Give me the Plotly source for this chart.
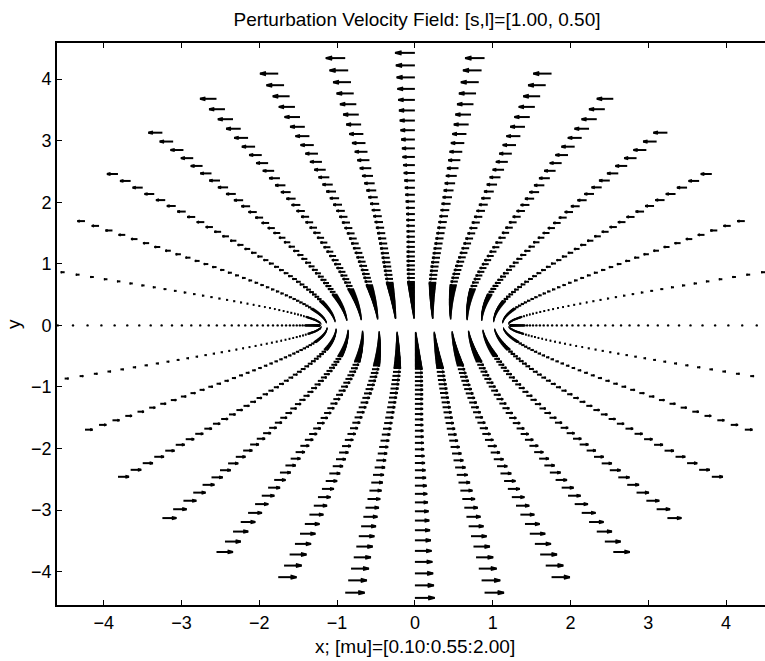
import numpy as np
import plotly.graph_objects as go

# ---- data ----
focal = 1.22  # half focal distance of the elliptic grid (x of the "nose")
# elliptic radial coordinate: dense from 0.10 to 0.55, coarse from 0.55 to 2.00
mu_fine = [0.100, 0.115, 0.130, 0.145, 0.160, 0.175, 0.190, 0.205, 0.220, 0.235,
           0.250, 0.265, 0.280, 0.295, 0.310, 0.325, 0.340, 0.355, 0.370, 0.385,
           0.400, 0.415, 0.430, 0.445, 0.460, 0.475, 0.490, 0.505, 0.520, 0.535,
           0.550]
mu_coarse = [0.5953, 0.6406, 0.6859, 0.7313, 0.7766, 0.8219, 0.8672, 0.9125,
             0.9578, 1.0031, 1.0484, 1.0938, 1.1391, 1.1844, 1.2297, 1.2750,
             1.3203, 1.3656, 1.4109, 1.4563, 1.5016, 1.5469, 1.5922, 1.6375,
             1.6828, 1.7281, 1.7734, 1.8188, 1.8641, 1.9094, 1.9547, 2.0000]
# horizontal arrow length (x units) on the vertical ray, for each mu
speed_fine = [0.017, 0.020, 0.022, 0.025, 0.027, 0.030, 0.032, 0.035, 0.038, 0.040,
              0.043, 0.045, 0.048, 0.051, 0.053, 0.056, 0.058, 0.061, 0.064, 0.066,
              0.069, 0.072, 0.075, 0.077, 0.080, 0.083, 0.085, 0.088, 0.091, 0.094,
              0.097]
speed_coarse = [0.099, 0.101, 0.102, 0.103, 0.104, 0.104, 0.104, 0.104,
                0.104, 0.104, 0.105, 0.106, 0.108, 0.110, 0.113, 0.117,
                0.122, 0.128, 0.135, 0.142, 0.150, 0.158, 0.166, 0.175,
                0.184, 0.194, 0.204, 0.214, 0.224, 0.234, 0.244, 0.254]
# elliptic angular coordinate (degrees)
nu_deg = [0.0, 11.25, 22.5, 33.75, 45.0, 56.25, 67.5, 78.75, 90.0, 101.25,
          112.5, 123.75, 135.0, 146.25, 157.5, 168.75, 180.0, 191.25, 202.5,
          213.75, 225.0, 236.25, 247.5, 258.75, 270.0, 281.25, 292.5, 303.75,
          315.0, 326.25, 337.5, 348.75]
x_ticks = [-4, -3, -2, -1, 0, 1, 2, 3, 4]
y_ticks = [-4, -3, -2, -1, 0, 1, 2, 3, 4]

# ---- grid and vectors ----
mu = np.array(mu_fine + mu_coarse)
speed = np.array(speed_fine + speed_coarse)
MU, NU = np.meshgrid(mu, np.radians(nu_deg))
X = focal * np.cosh(MU) * np.cos(NU)
Y = focal * np.sinh(MU) * np.sin(NU)
U = -np.sin(NU) * speed[None, :]
V = np.zeros_like(U)

x, y, u, v = X.ravel(), Y.ravel(), U.ravel(), V.ravel()
alpha, beta, eps = 0.33, 0.33, 1e-12

xs, ys = [], []
dots_x, dots_y = [], []
for xi, yi, ui, vi in zip(x, y, u, v):
    if abs(ui) < 1e-9 and abs(vi) < 1e-9:
        dots_x.append(xi); dots_y.append(yi)
        continue
    tx, ty = xi + ui, yi + vi
    xs += [xi, tx, None]
    ys += [yi, ty, None]
    h1x = tx - alpha * (ui + beta * (vi + eps))
    h1y = ty - alpha * (vi - beta * (ui + eps))
    h2x = tx - alpha * (ui - beta * (vi + eps))
    h2y = ty - alpha * (vi + beta * (ui + eps))
    xs += [h1x, tx, h2x, None]
    ys += [h1y, ty, h2y, None]

FONT = "Liberation Sans, Arial, sans-serif"
tick_font = dict(family=FONT, size=18, color="black")
label_font = dict(family=FONT, size=19, color="black")

fig = go.Figure()
fig.add_trace(go.Scatter(x=xs, y=ys, mode="lines",
                         line=dict(color="black", width=2.0),
                         hoverinfo="skip", showlegend=False))
fig.add_trace(go.Scatter(x=dots_x, y=dots_y, mode="markers",
                         marker=dict(color="black", size=2.4),
                         hoverinfo="skip", showlegend=False))

pa_l, pa_r, pa_t, pa_b = 57, 765, 43, 605
def to_paper(px, py):
    return (px - pa_l) / (pa_r - pa_l), (pa_b - py) / (pa_b - pa_t)
ax_x, ax_y = to_paper(415, 646)
ay_x, ay_y = to_paper(13, 324)

def fmt(t):
    return ("\u2212" + str(abs(t))) if t < 0 else str(t)

fig.update_layout(
    width=765, height=661,
    margin=dict(l=57, r=0, t=43, b=56),
    paper_bgcolor="white", plot_bgcolor="white",
    font=tick_font,
    title=dict(text="Perturbation Velocity Field: [s,l]=[1.00, 0.50]",
               x=417 / 765, xanchor="center", xref="container",
               y=1 - 19 / 661, yanchor="middle", yref="container",
               font=label_font),
    xaxis=dict(range=[-4.60, 4.50], tickvals=x_ticks, ticktext=[fmt(t) for t in x_ticks],
               ticks="inside", ticklen=5, tickwidth=1.4, tickcolor="black",
               showline=True, linewidth=1.8, linecolor="black", mirror="ticks",
               showgrid=False, zeroline=False, tickfont=tick_font),
    yaxis=dict(range=[-4.54, 4.585], tickvals=y_ticks, ticktext=[fmt(t) for t in y_ticks],
               ticks="inside", ticklen=5, tickwidth=1.4, tickcolor="black",
               showline=True, linewidth=1.8, linecolor="black", mirror=False,
               showgrid=False, zeroline=False, tickfont=tick_font),
    annotations=[
        dict(text="x; [mu]=[0.10:0.55:2.00]", x=ax_x, y=ax_y,
             xref="paper", yref="paper", showarrow=False, xanchor="center", yanchor="middle",
             font=label_font),
        dict(text="y", x=ay_x, y=ay_y, xref="paper", yref="paper",
             showarrow=False, textangle=-90, xanchor="center", yanchor="middle",
             font=label_font),
    ],
)

fig.write_html("out.html")
